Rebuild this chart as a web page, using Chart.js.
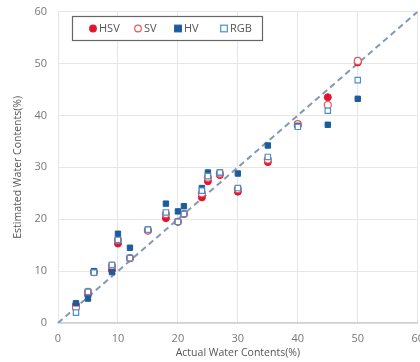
<!DOCTYPE html>
<html>
<head>
<meta charset="utf-8">
<script src="https://cdn.jsdelivr.net/npm/chart.js@4"></script>
<style>
  html, body { margin: 0; padding: 0; background: #fff; overflow: hidden; }
  /* the original figure is cropped on the right (the "60" label is cut) */
  #wrap { width: 433px; height: 369px; position: absolute; left: 0; top: -6px; }
</style>
</head>
<body>
<div id="wrap"><canvas id="c"></canvas></div>
<script>
// values
const actual = [3, 5, 6, 9, 10, 12, 15, 18, 20, 21, 24, 25, 27, 30, 35, 40, 45, 50];
const hsv = [3.5, 5.5, 9.8, 10.2, 15.3, 12.5, 17.8, 20.2, 19.5, 21, 24.2, 27.3, 28.5, 25.3, 31, 38, 43.5, 50.2];
const sv  = [3, 6, 9.8, 11, 16, 12.5, 17.8, 21, 19.5, 21, 25, 28, 28.8, 25.8, 31.5, 38.3, 42, 50.5];
const hv  = [3.8, 4.7, 10, 9.8, 17.2, 14.5, 18, 23, 21.5, 22.5, 26, 29, 29, 28.8, 34.2, 38, 38.2, 43.2];
const rgb = [2, 6, 9.7, 11.2, 16, 12.5, 18, 21.3, 19.5, 21, 25.5, 28.3, 29, 26, 32, 37.8, 40.9, 46.8];
const refLine = [0, 60];
const ticks = [0, 10, 20, 30, 40, 50, 60];

const pts = ys => actual.map((x, i) => ({ x, y: ys[i] }));

// legend drawn inside a framed box like the original
const boxLegend = {
    id: 'boxLegend',
    afterDraw(chart) {
        const ctx = chart.ctx;
        const top = 22;
        ctx.save();
        ctx.strokeStyle = '#666';
        ctx.lineWidth = 1.2;
        ctx.fillStyle = '#fff';
        ctx.fillRect(72, top, 191, 25);
        ctx.strokeRect(72.5, top + 0.5, 190, 24);
        const items = [
            { ds: 0, x: 93, label: 'HSV' },
            { ds: 1, x: 138, label: 'SV' },
            { ds: 2, x: 178, label: 'HV' },
            { ds: 3, x: 224, label: 'RGB' },
        ];
        const cy = top + 12.5;
        ctx.font = '11px "Open Sans", sans-serif';
        ctx.textBaseline = 'middle';
        items.forEach(it => {
            const d = chart.data.datasets[it.ds];
            ctx.fillStyle = d.backgroundColor;
            ctx.strokeStyle = d.borderColor;
            ctx.lineWidth = 1.2;
            if (d.pointStyle === 'circle') {
                ctx.beginPath();
                ctx.arc(it.x, cy, 3.3, 0, Math.PI * 2);
                ctx.fill(); ctx.stroke();
            } else {
                ctx.fillRect(it.x - 3.3, cy - 3.3, 6.6, 6.6);
                ctx.strokeRect(it.x - 3.3, cy - 3.3, 6.6, 6.6);
            }
            ctx.fillStyle = '#555';
            ctx.fillText(it.label, it.x + 6, cy);
        });
        ctx.restore();
    }
};

new Chart(document.getElementById('c'), {
    type: 'scatter',
    data: {
        datasets: [{
            label: 'HSV', data: pts(hsv), order: 3,
            pointStyle: 'circle', pointRadius: 3.5,
            backgroundColor: '#e3152e', borderColor: '#e3152e', borderWidth: 1,
        }, {
            label: 'SV', data: pts(sv), order: 2,
            pointStyle: 'circle', pointRadius: 3.5,
            backgroundColor: '#ffffff', borderColor: '#e35a5a', borderWidth: 1.2,
        }, {
            label: 'HV', data: pts(hv), order: 1,
            pointStyle: 'rect', pointRadius: 3.8,
            backgroundColor: '#1b5d9c', borderColor: '#1b5d9c', borderWidth: 1,
        }, {
            label: 'RGB', data: pts(rgb), order: 0,
            pointStyle: 'rect', pointRadius: 3.8,
            backgroundColor: '#ffffff', borderColor: '#4a8fd0', borderWidth: 1.2,
        }, {
            type: 'line', label: 'y=x', order: 4,
            data: refLine.map(v => ({ x: v, y: v })),
            borderColor: '#8399b2', borderWidth: 2, borderDash: [6, 4],
            pointRadius: 0, fill: false,
        }],
    },
    options: {
        responsive: true, maintainAspectRatio: false, animation: false,
        layout: { padding: { top: 0, right: 0, left: 8, bottom: 0 } },
        plugins: { legend: { display: false }, tooltip: { enabled: false } },
        scales: {
            x: {
                type: 'linear', min: 0, max: 60,
                afterBuildTicks: s => { s.ticks = ticks.map(v => ({ value: v })); },
                afterFit: s => { s.height = 40; },
                grid: { color: '#e6e6e6', drawTicks: false },
                border: { color: '#d0d0d0', width: 1.5 },
                ticks: { color: '#777', padding: 9, font: { family: '"Open Sans", sans-serif', size: 11 } },
                title: { display: true, text: 'Actual Water Contents(%)', color: '#555', padding: { top: 0 },
                         font: { family: '"Open Sans", sans-serif', size: 10.5 } },
            },
            y: {
                type: 'linear', min: 0, max: 60,
                afterBuildTicks: s => { s.ticks = ticks.map(v => ({ value: v })); },
                afterFit: s => { s.width = 50; },
                grid: { color: '#e6e6e6', drawTicks: false },
                border: { display: false },
                ticks: { color: '#777', padding: 11, font: { family: '"Open Sans", sans-serif', size: 11 } },
                title: { display: true, text: 'Estimated Water Contents(%)', color: '#555', padding: { bottom: 4 },
                         font: { family: '"Open Sans", sans-serif', size: 10.5 } },
            },
        },
    },
    plugins: [boxLegend],
});
</script>
</body>
</html>
